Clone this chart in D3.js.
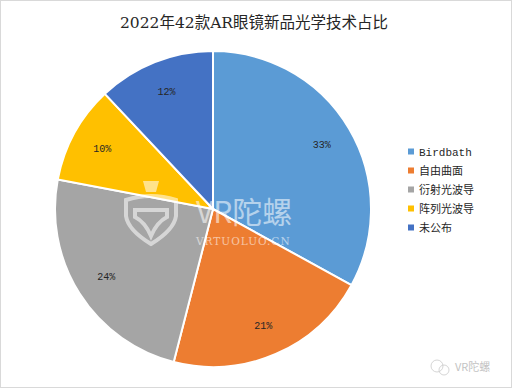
<!DOCTYPE html>
<html>
<head>
<meta charset="utf-8">
<script src="https://cdn.jsdelivr.net/npm/d3@7"></script>
<style>
  html, body { margin: 0; padding: 0; background: #fff; }
  svg { display: block; }
</style>
</head>
<body>
<svg id="chart"></svg>
<script>
// 数据
const categories = ['Birdbath', '自由曲面', '衍射光波导', '阵列光波导', '未公布'];
const shares = [33, 21, 24, 10, 12];
const colors = ['#5B9BD5', '#ED7D31', '#A5A5A5', '#FFC000', '#4472C4'];
const title = '2022年42款AR眼镜新品光学技术占比';

const W = 512, H = 388;
const cx = 213, cy = 209, R = 158;

const svg = d3.select('#chart').attr('width', W).attr('height', H);

// 外框
svg.append('rect')
  .attr('x', 0.5).attr('y', 0.5)
  .attr('width', W - 1).attr('height', H - 1)
  .attr('fill', '#fff')
  .attr('stroke', '#d9d9d9');

// 标题
svg.append('text')
  .attr('x', W / 2 - 2).attr('y', 28)
  .attr('text-anchor', 'middle')
  .attr('font-family', '"DejaVu Serif", "Noto Sans CJK SC", serif')
  .attr('font-size', 15.5)
  .attr('fill', '#262626')
  .text(title);

const pie = d3.pie().sort(null).value(d => d);
const arcs = pie(shares);
const arc = d3.arc().innerRadius(0).outerRadius(R);
const labelArc = d3.arc().innerRadius(R * 0.8).outerRadius(R * 0.8);

const g = svg.append('g').attr('transform', `translate(${cx},${cy})`);

g.selectAll('path.slice')
  .data(arcs)
  .enter()
  .append('path')
  .attr('class', 'slice')
  .attr('d', arc)
  .attr('fill', (d, i) => colors[i])
  .attr('stroke', '#fff')
  .attr('stroke-width', 2);

g.selectAll('text.pct')
  .data(arcs)
  .enter()
  .append('text')
  .attr('class', 'pct')
  .attr('transform', d => `translate(${labelArc.centroid(d)})`)
  .attr('text-anchor', 'middle')
  .attr('dy', '0.35em')
  .attr('font-family', '"Liberation Mono", "DejaVu Sans Mono", monospace')
  .attr('font-size', 10)
  .attr('fill', '#262626')
  .text(d => d.data + '%');

// 水印
const wm = svg.append('g').attr('opacity', 0.55);
wm.append('text')
  .attr('x', 196).attr('y', 223)
  .attr('font-family', '"Noto Sans CJK SC", sans-serif')
  .attr('font-size', 30)
  .attr('fill', '#fff')
  .text('VR陀螺');
wm.append('text')
  .attr('x', 196).attr('y', 245)
  .attr('font-family', '"DejaVu Serif", serif')
  .attr('font-size', 10.5)
  .attr('fill', '#fff')
  .attr('letter-spacing', 1)
  .text('VRTUOLUO.CN');
wm.append('path')
  .attr('d', 'M126,200 L126,216 Q128,230 151,244 Q174,230 176,216 L176,200 Q151,192 126,200 Z M135,210 L167,210 L167,217 Q157,222 151,236 Q145,222 135,217 Z')
  .attr('fill', 'none')
  .attr('stroke', '#fff')
  .attr('stroke-width', 4);
wm.append('path')
  .attr('d', 'M143,181 L159,181 L156,192 L146,192 Z')
  .attr('fill', '#fff');

// 图例
const legend = svg.append('g').attr('transform', 'translate(408,152)');
const rows = legend.selectAll('g.row')
  .data(categories)
  .enter()
  .append('g')
  .attr('class', 'row')
  .attr('transform', (d, i) => `translate(0,${i * 19})`);
rows.append('rect')
  .attr('x', 0).attr('y', -3.5)
  .attr('width', 6).attr('height', 6)
  .attr('fill', (d, i) => colors[i]);
rows.append('text')
  .attr('x', 11).attr('dy', '0.35em')
  .attr('font-family', (d, i) => i === 0 ? '"Liberation Mono", monospace' : '"Noto Sans CJK SC", sans-serif')
  .attr('font-size', 11)
  .attr('fill', '#262626')
  .text(d => d);

// 右下角公众号标识
const badge = svg.append('g').attr('opacity', 0.5);
badge.append('circle').attr('cx', 437).attr('cy', 366).attr('r', 6)
  .attr('fill', 'none').attr('stroke', '#999').attr('stroke-width', 0.8);
badge.append('circle').attr('cx', 444).attr('cy', 370).attr('r', 5)
  .attr('fill', 'none').attr('stroke', '#999').attr('stroke-width', 0.8);
badge.append('text')
  .attr('x', 455).attr('y', 371)
  .attr('font-family', '"Noto Sans CJK SC", sans-serif')
  .attr('font-size', 11)
  .attr('fill', '#888')
  .text('VR陀螺');
</script>
</body>
</html>
